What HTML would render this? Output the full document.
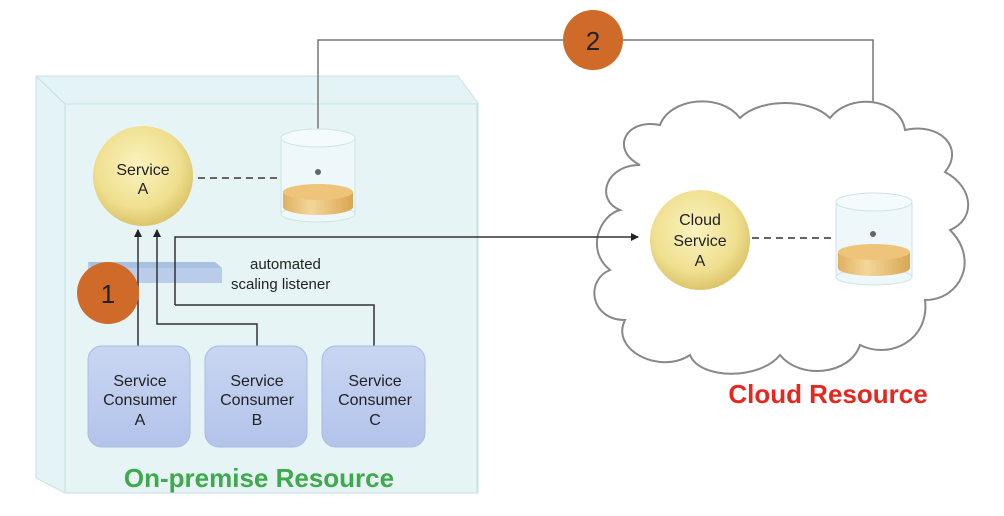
<!DOCTYPE html>
<html><head><meta charset="utf-8"><style>
body{margin:0;background:#fff}
svg{display:block;font-family:"Liberation Sans",Arial,sans-serif}
</style></head><body>
<svg width="1004" height="516" viewBox="0 0 1004 516" xmlns="http://www.w3.org/2000/svg">
<defs>
<radialGradient id="gold" cx="45%" cy="40%" r="60%"><stop offset="0" stop-color="#fbf3c0"/><stop offset="0.7" stop-color="#efdf8f"/><stop offset="1" stop-color="#dcc56b"/></radialGradient>
<linearGradient id="disk" x1="0" x2="1"><stop offset="0" stop-color="#e0b060"/><stop offset="0.4" stop-color="#f3d79a"/><stop offset="1" stop-color="#d9a552"/></linearGradient>
<linearGradient id="cons" x1="0" y1="0" x2="0" y2="1"><stop offset="0" stop-color="#c9d6f2"/><stop offset="1" stop-color="#b3c3ea"/></linearGradient>
<marker id="ah" markerWidth="8" markerHeight="8" refX="7" refY="4" orient="auto" markerUnits="userSpaceOnUse"><path d="M0,0 L8,4 L0,8 z" fill="#222"/></marker>
</defs>
<path d="M36,76 L458,76 L478,103 L478,493 L65,493 L36,478 Z" fill="#e4f3f5" stroke="#c8e2e6"/>
<rect x="65" y="104" width="412" height="389" fill="#e6f4f6" stroke="#c4dfe3"/>
<line x1="36" y1="76" x2="65" y2="104" stroke="#c4dfe3"/>
<polyline points="318,172 318,40 873,40 873,233" fill="none" stroke="#777" stroke-width="1.5"/>
<circle cx="593" cy="40" r="30" fill="#d06a28"/>
<text x="593" y="50" font-size="26" text-anchor="middle" fill="#222">2</text>
<circle cx="143" cy="176" r="50" fill="url(#gold)"/>
<text x="143" y="175" font-size="16" text-anchor="middle" fill="#222">Service</text>
<text x="143" y="194" font-size="16" text-anchor="middle" fill="#222">A</text>
<line x1="198" y1="178" x2="281" y2="178" stroke="#666" stroke-width="2" stroke-dasharray="7,5"/>
<rect x="281" y="138" width="74" height="76" fill="#eef8fa" stroke="#cfe3e6"/>
<ellipse cx="318" cy="138" rx="37" ry="9" fill="#f4fbfc" stroke="#cfe3e6"/>
<ellipse cx="318" cy="214" rx="37" ry="8" fill="#eef8fa" stroke="#cfe3e6"/>
<path d="M283,192 L283,207 A35,8 0 0 0 353,207 L353,192 Z" fill="url(#disk)"/>
<ellipse cx="318" cy="192" rx="35" ry="8" fill="#edc47a"/>
<circle cx="318" cy="172" r="3" fill="#666"/>
<path d="M640,165 C610,150 625,118 660,125 C670,98 720,92 740,118 C760,98 810,98 830,118 C850,92 900,98 905,130 C940,122 965,148 945,172 C975,188 975,220 950,230 C980,260 960,300 925,300 C930,340 890,360 860,345 C850,375 800,380 780,355 C760,380 700,380 690,355 C660,375 610,350 625,320 C590,320 585,280 610,270 C585,250 600,215 620,210 C595,200 605,165 640,165 Z" fill="#fff" stroke="#888" stroke-width="2"/>
<polygon points="88,262 215,262 222,268 222,283 92,283 88,277" fill="#b9cdea"/>
<polygon points="88,262 215,262 222,268 92,268" fill="#a9c0e4"/>
<polyline points="175,305 175,237 638,237" fill="none" stroke="#333" stroke-width="1.5" marker-end="url(#ah)"/>
<line x1="138" y1="346" x2="138" y2="230" stroke="#333" stroke-width="1.5" marker-end="url(#ah)"/>
<polyline points="257,346 257,324 157,324 157,230" fill="none" stroke="#333" stroke-width="1.5" marker-end="url(#ah)"/>
<polyline points="374,346 374,305 175,305" fill="none" stroke="#333" stroke-width="1.5"/>
<text x="250" y="269" font-size="15" fill="#222">automated</text>
<text x="231" y="289" font-size="15" fill="#222">scaling listener</text>
<circle cx="108" cy="293" r="31" fill="#d06a28"/>
<text x="108" y="303" font-size="26" text-anchor="middle" fill="#222">1</text>
<g font-size="16" text-anchor="middle" fill="#222">
<rect x="88" y="346" width="102" height="101" rx="14" fill="url(#cons)" stroke="#aabbe2"/>
<text x="140" y="386">Service</text><text x="140" y="405">Consumer</text><text x="140" y="425">A</text>
<rect x="205" y="346" width="102" height="101" rx="14" fill="url(#cons)" stroke="#aabbe2"/>
<text x="257" y="386">Service</text><text x="257" y="405">Consumer</text><text x="257" y="425">B</text>
<rect x="322" y="346" width="103" height="101" rx="14" fill="url(#cons)" stroke="#aabbe2"/>
<text x="375" y="386">Service</text><text x="375" y="405">Consumer</text><text x="375" y="425">C</text>
</g>
<text x="259" y="487" font-size="26" font-weight="bold" text-anchor="middle" fill="#3faa4c">On-premise Resource</text>
<circle cx="700" cy="240" r="50" fill="url(#gold)"/>
<text x="700" y="225" font-size="16" text-anchor="middle" fill="#222">Cloud</text>
<text x="700" y="246" font-size="16" text-anchor="middle" fill="#222">Service</text>
<text x="700" y="266" font-size="16" text-anchor="middle" fill="#222">A</text>
<line x1="752" y1="238" x2="836" y2="238" stroke="#666" stroke-width="2" stroke-dasharray="7,5"/>
<rect x="836" y="202" width="76" height="75" fill="#eef8fa" stroke="#cfe3e6"/>
<ellipse cx="874" cy="202" rx="38" ry="9" fill="#f4fbfc" stroke="#cfe3e6"/>
<ellipse cx="874" cy="277" rx="38" ry="8" fill="#eef8fa" stroke="#cfe3e6"/>
<path d="M838,252 L838,268 A36,8 0 0 0 910,268 L910,252 Z" fill="url(#disk)"/>
<ellipse cx="874" cy="252" rx="36" ry="8" fill="#edc47a"/>
<circle cx="873" cy="234" r="3" fill="#666"/>
<text x="828" y="403" font-size="26" font-weight="bold" text-anchor="middle" fill="#e5271f">Cloud Resource</text>
</svg>
</body></html>
